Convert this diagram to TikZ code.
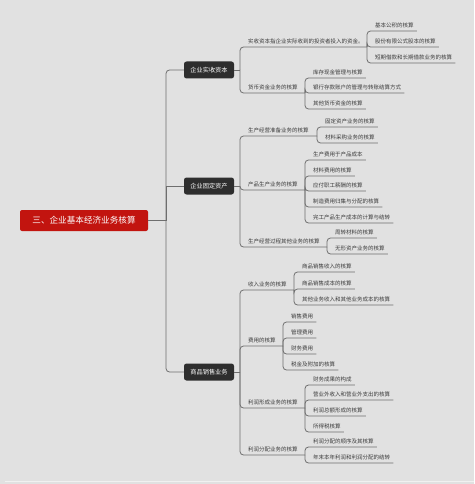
\documentclass[tikz,border=0pt]{standalone}
\usepackage{fontspec}
\setmainfont{Noto Sans CJK SC}
\usetikzlibrary{calc}
\definecolor{bg}{HTML}{E1E1E1}
\definecolor{lc}{HTML}{6E6E6E}
\definecolor{tc}{HTML}{3C3C3C}
\definecolor{boxc}{HTML}{2E2E2E}
\definecolor{rootc}{HTML}{C2140F}
% text node with underline start coordinate
\newcommand\tn[4]{\node[tx, anchor=base west] (#1) at ({#2+8},{#3-3.5}) {#4};
  \coordinate (#1-l) at (#2,#3);}
% leaf underline end
\newcommand\lf[1]{\coordinate (#1-r) at ($(#1.east |- #1-l)+(3,0)$);}
% connector parent -> child
\newcommand\br[2]{\draw[ln,rc] (#1-r) |- (#2-r);}
\begin{document}
\begin{tikzpicture}[x=1pt,y=-1pt,
  ln/.style={draw=lc, line width=0.8pt},
  rc/.style={rounded corners=3.5pt},
  tx/.style={inner sep=0pt, font=\fontsize{5.5}{6}\selectfont, text=tc},
  lone/.style={fill=boxc, rounded corners=2.5pt, text=white, minimum width=50pt, minimum height=17pt, inner sep=0pt, font=\fontsize{6.2}{7}\selectfont},
  rootbox/.style={fill=rootc, rounded corners=2pt, text=white, minimum width=128pt, minimum height=21pt, inner sep=0pt, font=\fontsize{8.6}{10}\selectfont}]
\path[fill=bg] (0,0) rectangle (474,484);
\draw[white!55!bg, line width=0.8pt] (5,481.5) -- (474,481.5);

% root and level 1
\node[rootbox] (R) at (84,220.5) {三、企业基本经济业务核算};
\node[lone] (A) at (209,70) {企业实收资本};
\node[lone] (B) at (209,186) {企业固定资产};
\node[lone] (C) at (209,372) {商品销售业务};
\coordinate (R-r) at (166,220.5);
\draw[ln] (R.east) -- (R-r);
\draw[ln,rc] (R-r) |- (A.west);
\draw[ln] (R-r) |- (B.west);
\draw[ln,rc] (R-r) |- (C.west);

\coordinate (A-r) at (240,70);
\coordinate (B-r) at (240,186);
\coordinate (C-r) at (240,372);
\draw[ln] (A.east) -- (A-r);
\draw[ln] (B.east) -- (B-r);
\draw[ln] (C.east) -- (C-r);

% ---- A
\tn{a1}{240}{47}{实收资本指企业实际收到的投资者投入的资金。}\coordinate (a1-r) at (367,47);
\tn{a2}{240}{93}{货币资金业务的核算}\coordinate (a2-r) at (305,93);
\br{A}{a1}\br{A}{a2}
\tn{a11}{367}{31}{基本公积的核算}\lf{a11}
\tn{a12}{367}{47}{股份有限公式股本的核算}\lf{a12}
\tn{a13}{367}{63}{短期借款和长期借款业务的核算}\lf{a13}
\br{a1}{a11}\br{a1}{a12}\br{a1}{a13}
\tn{a21}{305}{78}{库存现金管理与核算}\lf{a21}
\tn{a22}{305}{93}{银行存款账户的管理与转账结算方式}\lf{a22}
\tn{a23}{305}{109}{其他货币资金的核算}\lf{a23}
\br{a2}{a21}\br{a2}{a22}\br{a2}{a23}

% ---- B
\tn{b1}{240}{136}{生产经营准备业务的核算}\coordinate (b1-r) at (317,136);
\tn{b2}{240}{190}{产品生产业务的核算}\coordinate (b2-r) at (305,190);
\tn{b3}{240}{247}{生产经营过程其他业务的核算}\coordinate (b3-r) at (327,247);
\br{B}{b1}\br{B}{b2}\br{B}{b3}
\tn{b11}{317}{127}{固定资产业务的核算}\lf{b11}
\tn{b12}{317}{143}{材料采购业务的核算}\lf{b12}
\br{b1}{b11}\br{b1}{b12}
\tn{b21}{305}{160}{生产费用于产品成本}\lf{b21}
\tn{b22}{305}{176}{材料费用的核算}\lf{b22}
\tn{b23}{305}{191}{应付职工薪酬的核算}\lf{b23}
\tn{b24}{305}{207}{制造费用归集与分配的核算}\lf{b24}
\tn{b25}{305}{223}{完工产品生产成本的计算与结转}\lf{b25}
\br{b2}{b21}\br{b2}{b22}\br{b2}{b23}\br{b2}{b24}\br{b2}{b25}
\tn{b31}{327}{238}{周转材料的核算}\lf{b31}
\tn{b32}{327}{254}{无形资产业务的核算}\lf{b32}
\br{b3}{b31}\br{b3}{b32}

% ---- C
\tn{c1}{240}{290}{收入业务的核算}\coordinate (c1-r) at (294,290);
\tn{c2}{240}{346}{费用的核算}\coordinate (c2-r) at (283,346);
\tn{c3}{240}{408}{利润形成业务的核算}\coordinate (c3-r) at (305,408);
\tn{c4}{240}{455}{利润分配业务的核算}\coordinate (c4-r) at (305,455);
\br{C}{c1}\br{C}{c2}\br{C}{c3}\br{C}{c4}
\tn{c11}{294}{272}{商品销售收入的核算}\lf{c11}
\tn{c12}{294}{289}{商品销售成本的核算}\lf{c12}
\tn{c13}{294}{305}{其他业务收入和其他业务成本的核算}\lf{c13}
\br{c1}{c11}\br{c1}{c12}\br{c1}{c13}
\tn{c21}{283}{322}{销售费用}\lf{c21}
\tn{c22}{283}{338}{管理费用}\lf{c22}
\tn{c23}{283}{354}{财务费用}\lf{c23}
\tn{c24}{283}{370}{税金及附加的核算}\lf{c24}
\br{c2}{c21}\br{c2}{c22}\br{c2}{c23}\br{c2}{c24}
\tn{c31}{305}{385}{财务成果的构成}\lf{c31}
\tn{c32}{305}{400}{营业外收入和营业外支出的核算}\lf{c32}
\tn{c33}{305}{416}{利润总额形成的核算}\lf{c33}
\tn{c34}{305}{432}{所得税核算}\lf{c34}
\br{c3}{c31}\br{c3}{c32}\br{c3}{c33}\br{c3}{c34}
\tn{c41}{305}{447}{利润分配的顺序及其核算}\lf{c41}
\tn{c42}{305}{463}{年末本年利润和利润分配的结转}\lf{c42}
\br{c4}{c41}\br{c4}{c42}
\end{tikzpicture}
\end{document}
